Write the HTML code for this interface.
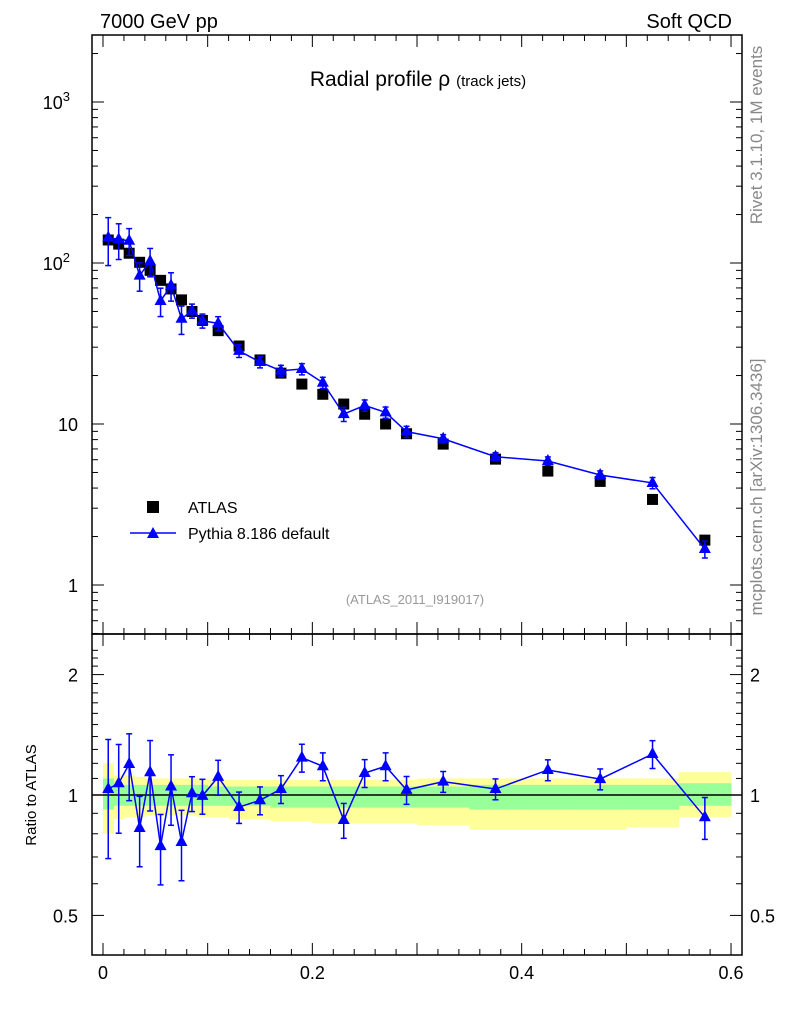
<!DOCTYPE html>
<html><head><meta charset="utf-8"><style>
body{margin:0;background:#fff}
svg{display:block;font-family:"Liberation Sans",sans-serif}
</style></head><body>
<svg id="c" width="786" height="1024" viewBox="0 0 786 1024">
<text x="100" y="28" font-size="20">7000 GeV pp</text>
<text x="732" y="28" font-size="20" text-anchor="end">Soft QCD</text>
<text x="418" y="86" font-size="21" text-anchor="middle">Radial profile ρ <tspan font-size="15">(track jets)</tspan></text>
<text x="415" y="604" font-size="13" fill="#999" text-anchor="middle">(ATLAS_2011_I919017)</text>
<text transform="translate(762,135) rotate(-90)" font-size="17" fill="#888" text-anchor="middle">Rivet 3.1.10,  1M events</text>
<text transform="translate(762,487) rotate(-90)" font-size="17" fill="#888" text-anchor="middle">mcplots.cern.ch [arXiv:1306.3436]</text>
<text transform="translate(36,795) rotate(-90)" font-size="15" text-anchor="middle">Ratio to ATLAS</text>
<g>
<rect x="147" y="501" width="12" height="12" fill="#000"/>
<text x="188" y="513" font-size="16">ATLAS</text>
<line x1="130" y1="533" x2="176" y2="533" stroke="#00f" stroke-width="1.5"/>
<polygon points="153,527 147,538 159,538" fill="#00f"/>
<text x="188" y="539" font-size="16">Pythia 8.186 default</text>
</g>
</svg>
<script>
const xCenters=[0.005,0.015,0.025,0.035,0.045,0.055,0.065,0.075,0.085,0.095,0.11,0.13,0.15,0.17,0.19,0.21,0.23,0.25,0.27,0.29,0.325,0.375,0.425,0.475,0.525,0.575];
const xLo=[0,0.01,0.02,0.03,0.04,0.05,0.06,0.07,0.08,0.09,0.1,0.12,0.14,0.16,0.18,0.2,0.22,0.24,0.26,0.28,0.3,0.35,0.4,0.45,0.5,0.55];
const xHi=[0.01,0.02,0.03,0.04,0.05,0.06,0.07,0.08,0.09,0.1,0.12,0.14,0.16,0.18,0.2,0.22,0.24,0.26,0.28,0.3,0.35,0.4,0.45,0.5,0.55,0.6];
const atlas=[139,131,115,101,90,78,69,59,50,44,38,30.5,25,20.7,17.7,15.3,13.3,11.5,10,8.7,7.5,6.05,5.1,4.4,3.4,1.9];
const ratio=[1.035,1.07,1.195,0.827,1.14,0.745,1.05,0.763,1.01,0.995,1.11,0.933,0.97,1.035,1.24,1.18,0.866,1.135,1.18,1.03,1.08,1.035,1.155,1.096,1.266,0.88];
const relErr=[0.33,0.25,0.19,0.2,0.2,0.2,0.2,0.2,0.1,0.1,0.1,0.09,0.08,0.08,0.08,0.08,0.1,0.08,0.08,0.08,0.06,0.06,0.06,0.06,0.08,0.12];
const yelHi=[1.20,1.12,1.12,1.11,1.10,1.10,1.10,1.10,1.10,1.10,1.09,1.09,1.09,1.09,1.09,1.09,1.09,1.09,1.09,1.09,1.10,1.10,1.10,1.10,1.10,1.14];
const yelLo=[0.80,0.87,0.88,0.88,0.89,0.89,0.89,0.89,0.89,0.88,0.88,0.87,0.87,0.86,0.86,0.85,0.85,0.85,0.85,0.85,0.84,0.82,0.82,0.82,0.83,0.88];
const grnHi=[1.10,1.06,1.06,1.06,1.06,1.06,1.06,1.06,1.06,1.06,1.05,1.05,1.05,1.05,1.05,1.05,1.05,1.05,1.05,1.05,1.05,1.06,1.06,1.06,1.06,1.07];
const grnLo=[0.92,0.94,0.94,0.94,0.94,0.94,0.94,0.94,0.94,0.94,0.94,0.94,0.94,0.93,0.93,0.93,0.93,0.93,0.93,0.93,0.93,0.92,0.92,0.92,0.92,0.94];
const xTicks=[0,0.2,0.4,0.6];
const xTickLabels=["0","0.2","0.4","0.6"];
const mainTicks=[1,10,100,1000];
const ratioTicks=[0.5,1,2];
const ratioTickLabels=["0.5","1","2"];

const NS="http://www.w3.org/2000/svg";
const svg=document.getElementById('c');
function el(t,a,p){const e=document.createElementNS(NS,t);for(const k in a)e.setAttribute(k,a[k]);(p||svg).appendChild(e);return e;}
const L=92,R=742,T=35,M=634,B=955;
const X=v=>103+v*1046.7;
const YM=v=>585-Math.log10(v)*161;
const YR=v=>795-Math.log10(v)*400;

const bands=el('g',{});


xCenters.forEach((c,i)=>{
  const y=el('rect',{x:X(xLo[i]),y:YR(yelHi[i]),width:X(xHi[i])-X(xLo[i])+0.5,height:YR(yelLo[i])-YR(yelHi[i]),fill:'#ffff99'},bands);
  
  
});
xCenters.forEach((c,i)=>{
  const g=el('rect',{x:X(xLo[i]),y:YR(grnHi[i]),width:X(xHi[i])-X(xLo[i])+0.5,height:YR(grnLo[i])-YR(grnHi[i]),fill:'#99ff99'},bands);
  
  
});
const ref=el('line',{x1:L,x2:R,y1:YR(1),y2:YR(1),stroke:'#000','stroke-width':1.5});



const f1=el('rect',{x:L,y:T,width:R-L,height:M-T,fill:'none',stroke:'#000','stroke-width':1.5});


const f2=el('rect',{x:L,y:M,width:R-L,height:B-M,fill:'none',stroke:'#000','stroke-width':1.5});



for(let k=0;k<=30;k++){const v=k*0.02;const x=X(v);const major=k%5===0;const len=major?12:6;
  [T,M].forEach(y0=>el('line',{x1:x,x2:x,y1:y0,y2:y0+len,stroke:'#000'}));
  [M,B].forEach(y0=>el('line',{x1:x,x2:x,y1:y0,y2:y0-len,stroke:'#000'}));
}
xTicks.forEach((v,i)=>{const t=el('text',{x:X(v),y:979,'font-size':18,'text-anchor':'middle'});t.textContent=xTickLabels[i];
  
  });
for(let d=-1;d<=3;d++)for(let m=1;m<10;m++){const v=m*Math.pow(10,d);const y=YM(v);if(y<T||y>M)continue;const len=m===1?12:6;
  el('line',{x1:L,x2:L+len,y1:y,y2:y,stroke:'#000'});el('line',{x1:R,x2:R-len,y1:y,y2:y,stroke:'#000'});}
mainTicks.forEach(v=>{const y=YM(v);const t=el('text',{x:78,y:y+7,'font-size':18,'text-anchor':'end'});
  const e=Math.log10(v);
  if(e<2)t.textContent=String(v);else{t.textContent='10';const s=el('tspan',{dy:-8,'font-size':13},t);s.textContent=String(e);t.setAttribute('x',70);}
  
  });
for(let v=0.5;v<=2.31;v+=0.1){const y=YR(v);if(y<M||y>B)continue;const big=Math.abs(v-0.5)<1e-6||Math.abs(v-1)<1e-6||Math.abs(v-2)<1e-6;const len=big?12:6;
  el('line',{x1:L,x2:L+len,y1:y,y2:y,stroke:'#000'});el('line',{x1:R,x2:R-len,y1:y,y2:y,stroke:'#000'});}
ratioTicks.forEach((v,i)=>{const y=YR(v);
  const t=el('text',{x:78,y:y+7,'font-size':18,'text-anchor':'end'});t.textContent=ratioTickLabels[i];
  
  
  const t2=el('text',{x:750,y:y+7,'font-size':18});t2.textContent=ratioTickLabels[i];
  
  });

atlas.forEach((v,i)=>{const r=el('rect',{x:X(xCenters[i])-5.5,y:YM(v)-5.5,width:11,height:11,fill:'#000'});
  
  });

const py=atlas.map((a,i)=>a*ratio[i]);
function series(Y,vals,name){
  const g=el('g',{});
  
  
  const pts=vals.map((v,i)=>X(xCenters[i])+','+Y(v)).join(' ');
  el('polyline',{points:pts,fill:'none',stroke:'#00f','stroke-width':1.5},g);
  vals.forEach((v,i)=>{const x=X(xCenters[i]);const y1=Y(v*(1+relErr[i])),y2=Y(Math.max(v*(1-relErr[i]),1e-3));
    el('line',{x1:x,x2:x,y1:y1,y2:y2,stroke:'#00f','stroke-width':1.5},g);
    el('line',{x1:x-3,x2:x+3,y1:y1,y2:y1,stroke:'#00f','stroke-width':1.5},g);
    el('line',{x1:x-3,x2:x+3,y1:y2,y2:y2,stroke:'#00f','stroke-width':1.5},g);
    const y=Y(v);
    const p=el('polygon',{points:`${x},${y-7} ${x-6},${y+4} ${x+6},${y+4}`,fill:'#00f'},g);
    
    
  });
}
series(YM,py,'pythia-main-series');
series(YR,ratio,'pythia-ratio-series');
</script>
</body></html>
